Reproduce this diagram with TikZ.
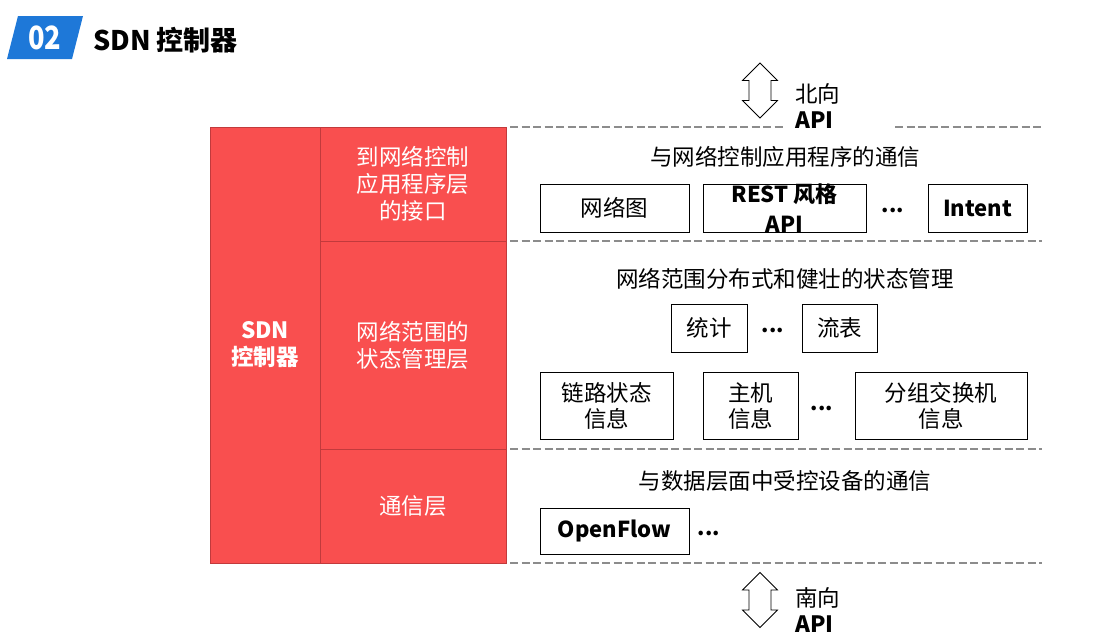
\documentclass[tikz,border=0pt]{standalone}
\usepackage{fontspec}
\setmainfont{Noto Sans CJK SC}
\usetikzlibrary{positioning}
\definecolor{sdnred}{HTML}{F94F4F}
\definecolor{sdnedge}{HTML}{C23A3C}
\definecolor{tagblue}{HTML}{1E78D8}
\definecolor{sepgray}{HTML}{8C8C8C}
\tikzstyle{layer}=[rectangle, draw=sdnedge, line width=1pt, fill=sdnred, text=white, align=center,
        inner sep=0pt, font=\fontsize{22.5}{27}\selectfont]
\tikzstyle{item}=[rectangle, draw=black, line width=1pt, align=center, inner sep=0pt,
        font=\fontsize{22.5}{26}\selectfont]
\tikzstyle{head}=[inner sep=0pt, font=\fontsize{22.5}{26}\selectfont]
\tikzstyle{dots}=[inner sep=0pt, font=\bfseries\fontsize{21}{26}\selectfont]
\tikzstyle{sep}=[draw=sepgray, line width=2.5pt, dash pattern=on 8pt off 3.5pt]
\tikzstyle{apiarrow}=[draw=black, line width=0.8pt, fill=white, line join=miter]
\tikzstyle{apilabel}=[anchor=west, align=left, inner sep=0pt, font=\fontsize{22.5}{26}\selectfont]
% up-down arrow, #1 = centre
\newcommand{\apiupdown}[1]{%
  \draw [apiarrow, shift={#1}] (0,-27.5) -- (17.5,-10) -- (11,-10) -- (11,10) -- (17.5,10)
    -- (0,27.5) -- (-17.5,10) -- (-11,10) -- (-11,-10) -- (-17.5,-10) -- cycle;}

\begin{document}
\begin{tikzpicture}[x=1pt, y=-1pt]
\useasboundingbox (0,0) rectangle (1119,643);
% title
\fill[tagblue] (18,16) -- (83,16) -- (72,59) -- (7,59) -- cycle;
\node [text=white, font=\bfseries\fontsize{32}{32}\selectfont, xscale=0.85] (num) at (45,38) {02};
\node [anchor=west, inner sep=0pt, font=\bfseries\fontsize{27}{30}\selectfont] (title) at (93,40) {SDN 控制器};

% controller block
\node [layer, minimum width=110pt, minimum height=436pt, font=\bfseries\fontsize{22.5}{27}\selectfont] (sdn) at (265,345) {SDN\\控制器};
\node [layer, minimum width=186pt, minimum height=114pt] (appif) at (413,184) {到网络控制\\应用程序层\\的接口};
\node [layer, minimum width=186pt, minimum height=208pt] (state) at (413,345) {网络范围的\\状态管理层};
\node [layer, minimum width=186pt, minimum height=114pt] (comm) at (413,506) {通信层};

% separators
\draw [sep] (510,127) -- (785,127);
\draw [sep] (895,127) -- (1042,127);
\draw [sep] (510,241) -- (1042,241);
\draw [sep] (510,449) -- (1042,449);
\draw [sep] (510,563) -- (1042,563);

% northbound
\apiupdown{(760,90.5)}
\node [apilabel] (northlbl) at (795,106) {北向\\\textbf{API}};

% application layer
\node [head] (apphead) at (785,157) {与网络控制应用程序的通信};
\node [item, minimum width=149pt, minimum height=48pt] (topo) at (614.5,208) {网络图};
\node [item, minimum width=163pt, minimum height=48pt] (rest) at (784.5,208) {};
\node [inner sep=0pt, align=center, font=\bfseries\fontsize{22}{30}\selectfont] (restlbl) at (rest) {REST 风格\\API};
\node [dots] (appdots) at (893,210) {...};
\node [item, minimum width=99pt, minimum height=48pt, font=\bfseries\fontsize{22}{26}\selectfont] (intent) at (977.5,208) {Intent};

% state layer
\node [head] (statehead) at (785,279) {网络范围分布式和健壮的状态管理};
\node [item, minimum width=76pt, minimum height=48pt] (stats) at (709,328) {统计};
\node [dots] (statdots) at (773,330) {...};
\node [item, minimum width=75pt, minimum height=48pt] (flows) at (839.5,328) {流表};
\node [item, minimum width=133pt, minimum height=67pt] (link) at (606.5,405.5) {链路状态\\信息};
\node [item, minimum width=95pt, minimum height=67pt] (host) at (750.5,405.5) {主机\\信息};
\node [dots] (infodots) at (822,408) {...};
\node [item, minimum width=172pt, minimum height=67pt] (switch) at (941,405.5) {分组交换机\\信息};

% communication layer
\node [head] (commhead) at (785,481) {与数据层面中受控设备的通信};
\node [item, minimum width=149pt, minimum height=46pt, font=\bfseries\fontsize{22}{26}\selectfont] (of) at (614.5,531) {OpenFlow};
\node [dots] (ofdots) at (709,533) {...};

% southbound
\apiupdown{(760,600)}
\node [apilabel] (southlbl) at (795,610) {南向\\\textbf{API}};
\end{tikzpicture}
\end{document}
